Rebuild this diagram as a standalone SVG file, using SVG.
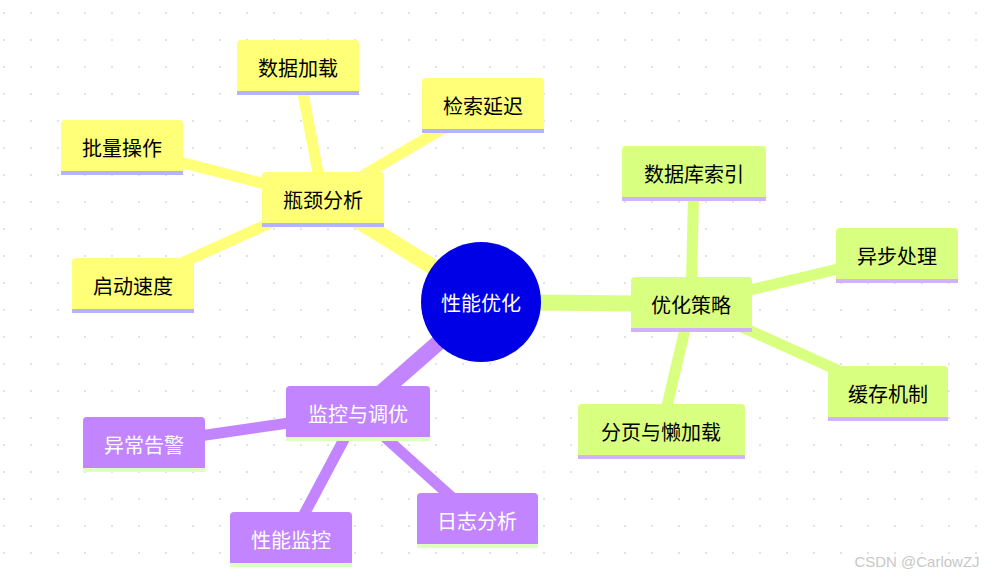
<svg xmlns="http://www.w3.org/2000/svg" width="1002" height="578" viewBox="0 0 1002 578">
<style>
text{font-family:"Noto Sans CJK SC","Noto Sans",sans-serif;font-size:20px;text-anchor:middle;dominant-baseline:central}
.y rect.b{fill:#ffff78}.y rect.l{fill:#b3b3ff}
.g rect.b{fill:#d9ff80}.g rect.l{fill:#d0b3ff}
.p rect.b{fill:#c284ff}.p rect.l{fill:#ddffc0}.p text{fill:#fff}
.ey{stroke:#ffff78}.eg{stroke:#d9ff80}.ep{stroke:#c284ff}
#edges line{stroke-linecap:butt}
</style>
<defs><pattern id="dots" x="3" y="12" width="27" height="27" patternUnits="userSpaceOnUse"><rect width="2" height="2" fill="#e3e3e3"/></pattern></defs>
<rect width="1002" height="578" fill="#fff"/>
<rect width="1002" height="578" fill="url(#dots)"/>
<g id="edges">
<line class="ey" x1="470" y1="290" x2="323" y2="199" stroke-width="16"/>
<line class="ey" x1="323" y1="199" x2="298" y2="67" stroke-width="11"/>
<line class="ey" x1="323" y1="199" x2="483" y2="105" stroke-width="11"/>
<line class="ey" x1="323" y1="199" x2="122" y2="147" stroke-width="11"/>
<line class="ey" x1="323" y1="199" x2="133" y2="285" stroke-width="11"/>
<line class="eg" x1="490" y1="302" x2="691" y2="304" stroke-width="16"/>
<line class="eg" x1="691" y1="304" x2="694" y2="173" stroke-width="11"/>
<line class="eg" x1="691" y1="304" x2="897" y2="255" stroke-width="11"/>
<line class="eg" x1="691" y1="304" x2="888" y2="393" stroke-width="11"/>
<line class="eg" x1="691" y1="304" x2="661" y2="431" stroke-width="11"/>
<line class="ep" x1="470" y1="315" x2="358" y2="413" stroke-width="16"/>
<line class="ep" x1="358" y1="413" x2="144" y2="444" stroke-width="11"/>
<line class="ep" x1="358" y1="413" x2="291" y2="539" stroke-width="11"/>
<line class="ep" x1="358" y1="413" x2="477" y2="520" stroke-width="11"/>
</g>
<g id="root"><circle cx="481" cy="302" r="60" fill="#0000e6"/><text x="481" y="302" fill="#fff">性能优化</text></g>
<g id="n1" class="y"><rect class="b" x="262" y="172" width="122" height="54" rx="4"/><rect class="l" x="262" y="223" width="122" height="4"/><text x="323" y="199">瓶颈分析</text></g>
<g id="n2" class="y"><rect class="b" x="237" y="40" width="122" height="54" rx="4"/><rect class="l" x="237" y="91" width="122" height="4"/><text x="298" y="67">数据加载</text></g>
<g id="n3" class="y"><rect class="b" x="422" y="78" width="122" height="54" rx="4"/><rect class="l" x="422" y="129" width="122" height="4"/><text x="483" y="105">检索延迟</text></g>
<g id="n4" class="y"><rect class="b" x="61" y="120" width="122" height="54" rx="4"/><rect class="l" x="61" y="171" width="122" height="4"/><text x="122" y="147">批量操作</text></g>
<g id="n5" class="y"><rect class="b" x="72" y="258" width="122" height="54" rx="4"/><rect class="l" x="72" y="309" width="122" height="4"/><text x="133" y="285">启动速度</text></g>
<g id="n6" class="g"><rect class="b" x="631" y="277" width="121" height="54" rx="4"/><rect class="l" x="631" y="328" width="121" height="4"/><text x="691" y="304">优化策略</text></g>
<g id="n7" class="g"><rect class="b" x="622" y="146" width="144" height="54" rx="4"/><rect class="l" x="622" y="197" width="144" height="4"/><text x="694" y="173">数据库索引</text></g>
<g id="n8" class="g"><rect class="b" x="836" y="228" width="122" height="54" rx="4"/><rect class="l" x="836" y="279" width="122" height="4"/><text x="897" y="255">异步处理</text></g>
<g id="n9" class="g"><rect class="b" x="828" y="366" width="120" height="54" rx="4"/><rect class="l" x="828" y="417" width="120" height="4"/><text x="888" y="393">缓存机制</text></g>
<g id="n10" class="g"><rect class="b" x="578" y="404" width="167" height="54" rx="4"/><rect class="l" x="578" y="455" width="167" height="4"/><text x="661" y="431">分页与懒加载</text></g>
<g id="n11" class="p"><rect class="b" x="286" y="386" width="144" height="54" rx="4"/><rect class="l" x="286" y="437" width="144" height="4"/><text x="358" y="413">监控与调优</text></g>
<g id="n12" class="p"><rect class="b" x="83" y="417" width="122" height="54" rx="4"/><rect class="l" x="83" y="468" width="122" height="4"/><text x="144" y="444">异常告警</text></g>
<g id="n13" class="p"><rect class="b" x="230" y="512" width="122" height="54" rx="4"/><rect class="l" x="230" y="563" width="122" height="4"/><text x="291" y="539">性能监控</text></g>
<g id="n14" class="p"><rect class="b" x="417" y="493" width="121" height="54" rx="4"/><rect class="l" x="417" y="544" width="121" height="4"/><text x="477" y="520">日志分析</text></g>
<text x="917" y="561" style="font-family:'Liberation Sans',sans-serif;font-size:15px;fill:#c8c8c8">CSDN @CarlowZJ</text>
</svg>
